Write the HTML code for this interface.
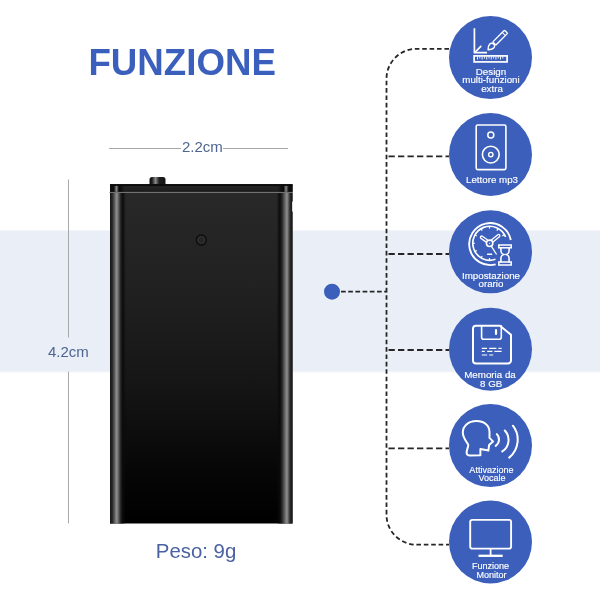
<!DOCTYPE html>
<html><head><meta charset="utf-8">
<style>
html,body{margin:0;padding:0;background:#fff;}
body{width:600px;height:600px;position:relative;overflow:hidden;font-family:"Liberation Sans",sans-serif;}
svg{position:absolute;left:0;top:0;will-change:transform;}
</style></head>
<body>
<svg width="600" height="600" viewBox="0 0 600 600">
<defs>
<linearGradient id="body" x1="0" y1="0" x2="0" y2="1">
<stop offset="0" stop-color="#292929"/>
<stop offset="0.3" stop-color="#212121"/>
<stop offset="0.6" stop-color="#151515"/>
<stop offset="0.85" stop-color="#060606"/>
<stop offset="1" stop-color="#000"/>
</linearGradient>
<linearGradient id="edgeL" x1="0" y1="0" x2="1" y2="0">
<stop offset="0" stop-color="#141414"/>
<stop offset="0.15" stop-color="#2a2a2a"/>
<stop offset="0.42" stop-color="#909090"/>
<stop offset="0.68" stop-color="#202020"/>
<stop offset="0.8" stop-color="#0a0a0a" stop-opacity="0.9"/>
<stop offset="1" stop-color="#0a0a0a" stop-opacity="0"/>
</linearGradient>
<linearGradient id="edgeR" x1="0" y1="0" x2="1" y2="0">
<stop offset="0" stop-color="#0a0a0a" stop-opacity="0"/>
<stop offset="0.2" stop-color="#0a0a0a" stop-opacity="0.9"/>
<stop offset="0.32" stop-color="#202020"/>
<stop offset="0.65" stop-color="#909090"/>
<stop offset="0.85" stop-color="#2a2a2a"/>
<stop offset="1" stop-color="#141414"/>
</linearGradient>
<linearGradient id="btn" x1="0" y1="0" x2="1" y2="0">
<stop offset="0" stop-color="#111"/>
<stop offset="0.15" stop-color="#1a1a1a"/>
<stop offset="0.38" stop-color="#8a8a8a"/>
<stop offset="0.6" stop-color="#1e1e1e"/>
<stop offset="1" stop-color="#141414"/>
</linearGradient>
<linearGradient id="cap" x1="0" y1="0" x2="0" y2="1">
<stop offset="0" stop-color="#0a0a0a"/>
<stop offset="0.3" stop-color="#242424"/>
<stop offset="0.8" stop-color="#1e1e1e"/>
<stop offset="1" stop-color="#0c0c0c"/>
</linearGradient>
<linearGradient id="capedge" gradientUnits="userSpaceOnUse" x1="110" y1="0" x2="292.5" y2="0">
<stop offset="0" stop-color="#000" stop-opacity="0.6"/>
<stop offset="0.02" stop-color="#000" stop-opacity="0.6"/>
<stop offset="0.035" stop-color="#999" stop-opacity="0.9"/>
<stop offset="0.05" stop-color="#000" stop-opacity="0.8"/>
<stop offset="0.08" stop-color="#000" stop-opacity="0"/>
<stop offset="0.92" stop-color="#000" stop-opacity="0"/>
<stop offset="0.95" stop-color="#000" stop-opacity="0.8"/>
<stop offset="0.965" stop-color="#999" stop-opacity="0.9"/>
<stop offset="0.98" stop-color="#000" stop-opacity="0.6"/>
<stop offset="1" stop-color="#000" stop-opacity="0.6"/>
</linearGradient>
</defs>
<!-- band -->
<rect x="0" y="230" width="600" height="1" fill="#f4f6fb"/>
<rect x="0" y="231" width="600" height="140.5" fill="#e9eef7"/>
<rect x="0" y="371.5" width="600" height="1" fill="#f2f4f8"/>

<!-- title -->
<text x="88.4" y="75.2" font-family="Liberation Sans" font-weight="bold" font-size="36.7" fill="#3b5fbd">FUNZIONE</text>

<!-- dimension 2.2cm -->
<line x1="109" y1="148.5" x2="181" y2="148.5" stroke="#a8a8a8" stroke-width="1"/>
<line x1="223" y1="148.5" x2="288" y2="148.5" stroke="#a8a8a8" stroke-width="1"/>
<text x="182" y="151.5" font-family="Liberation Sans" font-size="15" fill="#4e6591">2.2cm</text>

<!-- dimension 4.2cm -->
<line x1="68.5" y1="179.5" x2="68.5" y2="337.5" stroke="#a8a8a8" stroke-width="1"/>
<line x1="68.5" y1="371.5" x2="68.5" y2="523.5" stroke="#a8a8a8" stroke-width="1"/>
<text x="48" y="356.5" font-family="Liberation Sans" font-size="15" fill="#4e6591">4.2cm</text>

<!-- Peso -->
<text x="155.8" y="558.3" font-family="Liberation Sans" font-size="20.4" fill="#4a62a0">Peso: 9g</text>

<!-- device -->
<rect x="149.5" y="177" width="16" height="9" rx="2.5" fill="url(#btn)"/>
<rect x="110" y="184.3" width="182.5" height="339.2" fill="url(#body)"/>
<rect x="110" y="184.3" width="182.5" height="7.7" fill="url(#cap)"/>
<rect x="110" y="184.3" width="182.5" height="1.6" fill="#0a0a0a"/>
<rect x="109.5" y="191.8" width="183" height="1.1" fill="#7a7a7a"/>
<rect x="110" y="193" width="16" height="330.5" fill="url(#edgeL)"/>
<rect x="276.5" y="193" width="16" height="330.5" fill="url(#edgeR)"/>
<rect x="110" y="185.9" width="182.5" height="5.9" fill="url(#capedge)"/>
<rect x="292" y="201.6" width="1" height="10" fill="#fff" opacity="0.8"/>
<circle cx="201.3" cy="240" r="5" fill="none" stroke="#0d0d0d" stroke-width="1.4"/>
<circle cx="201.3" cy="240" r="3.4" fill="none" stroke="#3a3a3a" stroke-width="0.8"/>
<!-- connectors -->
<g fill="none" stroke="#262626" stroke-width="1.8">
<path d="M449 48.8 H416.5 A30 30 0 0 0 386.5 78.8 V514.7 A30 30 0 0 0 416.5 544.7 H449" stroke-dasharray="4.6 2.8"/>
<path d="M388.5 156.3 H449" stroke-dasharray="6.3 3.2"/>
<path d="M388.5 254 H449" stroke-dasharray="6.3 3.2"/>
<path d="M388.5 350 H449" stroke-dasharray="6.3 3.2"/>
<path d="M388.5 448.3 H449" stroke-dasharray="6.3 3.2"/>
<path d="M341 291.6 H386.5" stroke-dasharray="4.7 2.5"/>
</g>
<circle cx="332" cy="291.7" r="8" fill="#3b5fbb"/>

<!-- circles -->
<g fill="#3b5fbb">
<circle cx="490.5" cy="57.6" r="41.5"/>
<circle cx="490.5" cy="154.5" r="41.5"/>
<circle cx="490.5" cy="251.8" r="41.5"/>
<circle cx="490.5" cy="349.2" r="41.5"/>
<circle cx="490.5" cy="445.6" r="41.5"/>
<circle cx="490.5" cy="542" r="41.5"/>
</g>


<!-- icons -->
<g fill="none" stroke="#fff" stroke-linecap="round" stroke-linejoin="round">
 <!-- 1 design -->
 <path d="M474.4 28.2 V52.7 H487" stroke-width="1.7" stroke-linecap="butt"/>
 <path d="M475.3 52 L480.8 46.4" stroke-width="1.7"/>
 <g transform="translate(491.9,45.9) rotate(45)" stroke-width="1.4">
  <path d="M0 5.4 C-1.5 3.9 -2.8 2.1 -2.8 0.2 A2.8 2.8 0 0 1 2.8 0.2 C2.8 2.1 1.5 3.9 0 5.4Z"/>
  <rect x="-2.2" y="-20" width="4.4" height="16.6" rx="0.8"/>
  <path d="M-2.2 -16.8 H2.2" stroke-width="1"/>
 </g>
 <rect x="474.1" y="55.9" width="33" height="6" stroke-width="1.7" stroke-linejoin="miter"/>
 <path d="M477.5 56.5 V59.5 M479.8 56.5 V58.5 M482.1 56.5 V59.5 M484.4 56.5 V58.5 M486.7 56.5 V59.5 M489 56.5 V58.5 M491.3 56.5 V59.5 M493.6 56.5 V58.5 M495.9 56.5 V59.5 M498.2 56.5 V58.5 M500.5 56.5 V59.5 M502.8 56.5 V58.5" stroke-width="0.9" stroke-linecap="butt"/>

 <!-- 2 speaker -->
 <rect x="476.2" y="125" width="29.7" height="44.6" rx="1.5" stroke-width="1.6"/>
 <circle cx="490.8" cy="135" r="3" stroke-width="1.5"/>
 <circle cx="490.8" cy="154.6" r="8.4" stroke-width="1.6"/>
 <circle cx="490.8" cy="154.6" r="2.2" stroke-width="1.4"/>

 <!-- 3 clock -->
 <path d="M510.8 240 A21 21 0 1 0 495.6 264.4" stroke-width="1.9" stroke-linecap="butt"/>
 <path d="M505.6 237 A17 17 0 1 0 495.5 259.3" stroke-width="1.7" stroke-linecap="butt"/>
 <g stroke-width="1.2" stroke-linecap="butt">
  <path d="M489.5 226.3 V228.6"/>
  <path d="M481 228.6 L482.2 230.6"/>
  <path d="M474.8 234.8 L476.8 236"/>
  <path d="M472.5 243.3 H474.8"/>
  <path d="M474.8 251.8 L476.8 250.6"/>
  <path d="M481 258 L482.2 256"/>
  <path d="M489.5 260.3 V258"/>
  <path d="M498 228.6 L496.8 230.6"/>
  <path d="M504.2 234.8 L502.2 236"/>
 </g>
 <path d="M486.6 240.8 L481.7 237.3" stroke-width="3.9"/>
 <path d="M486.6 240.8 L481.7 237.3" stroke="#3b5fbb" stroke-width="1.2"/>
 <path d="M492.5 240.8 L498.6 235.7" stroke-width="3.9"/>
 <path d="M492.5 240.8 L498.6 235.7" stroke="#3b5fbb" stroke-width="1.2"/>
 <circle cx="489.6" cy="243.3" r="3.2" fill="#3b5fbb" stroke-width="1.6"/>
 <circle cx="489.6" cy="243.3" r="0.6" fill="#fff" stroke="none"/>
 <path d="M491.3 246.2 L496.3 254" stroke-width="1.3"/>
 <path d="M487.6 254.3 H491.6" stroke-width="1.5"/>
 <rect x="498.8" y="245" width="12.4" height="2.8" stroke-width="1.5" stroke-linejoin="miter"/>
 <rect x="498.8" y="262" width="12.4" height="3" stroke-width="1.5" stroke-linejoin="miter"/>
 <path d="M500.9 248 V250.2 A3.3 4.3 0 0 0 504.2 254.5 A3.3 4.3 0 0 0 500.9 258.8 V262 M509.1 248 V250.2 A3.3 4.3 0 0 1 505.8 254.5 A3.3 4.3 0 0 1 509.1 258.8 V262" stroke-width="1.6"/>

 <!-- 4 floppy -->
 <path d="M476 325.8 H500 L511 334.8 V360.4 A3 3 0 0 1 508 363.4 H476 A3 3 0 0 1 473 360.4 V328.8 A3 3 0 0 1 476 325.8Z" stroke-width="2"/>
 <path d="M481.6 325.8 V337.3 A2 2 0 0 0 483.6 339.3 H499.3 A2 2 0 0 0 501.3 337.3 V325.8" stroke-width="1.6"/>
 <path d="M496 330 V334" stroke-width="2.2"/>
 <g stroke-width="1.2" stroke-linecap="butt">
  <path d="M481.8 348.4 H487 M489.2 348.4 H496.4 M498.4 348.4 H501.6"/>
  <path d="M481.8 351.4 H484.8 M487.2 351.4 H492.4 M494.4 351.4 H501.6"/>
  <path d="M481.8 355 H487.2 M489.2 355 H493.2"/>
 </g>

 <!-- 5 head -->
 <path d="M480.4 455.2 V449.1 L488.4 450.5 L489.1 444.9 L493 441.4 L489.5 437.9 V432 C489.5 425.5 484 421 476.5 421 C468 421 462.8 426.5 462.8 432.5 C462.8 437.5 466 441 468.2 444.5 C468.8 446.5 466.4 450 466.6 453 C466.8 455 468 455.5 470 455.5 Z" stroke-width="2"/>
 <path d="M496.8 434.1 A7.8 7.8 0 0 1 495.7 445.9" stroke-width="2"/>
 <path d="M504.8 430.5 A13.7 13.7 0 0 1 502.3 451.4" stroke-width="2"/>
 <path d="M512.9 425.7 A23 23 0 0 1 509.2 457.6" stroke-width="2"/>

 <!-- 6 monitor -->
 <rect x="470.2" y="519.9" width="40.9" height="28.7" rx="2.2" stroke-width="1.9"/>
 <path d="M490.6 549.6 V555" stroke-width="1.8"/>
 <path d="M478.5 555.8 H502.7" stroke-width="2.3" stroke-linecap="butt"/>
</g>

<!-- labels -->
<g font-family="Liberation Sans" font-size="9.75" fill="#fff" stroke="#fff" stroke-width="0.15" text-anchor="middle">
<text x="491" y="75.2">Design</text>
<text x="491" y="83.3">multi-funzioni</text>
<text x="492" y="91.6">extra</text>
<text x="492" y="182.7">Lettore mp3</text>
<text x="491" y="278.75">Impostazione</text>
<text x="491" y="286.9">orario</text>
<text x="490" y="378.1">Memoria da</text>
<text x="491.2" y="386.5">8 GB</text>
<text x="491.5" y="472.5" font-size="9.05">Attivazione</text>
<text x="492" y="480.6" font-size="9.05">Vocale</text>
<text x="490.5" y="569.4" font-size="9.05">Funzione</text>
<text x="491.5" y="577.5" font-size="9.05">Monitor</text>
</g>
</svg>
</body></html>
